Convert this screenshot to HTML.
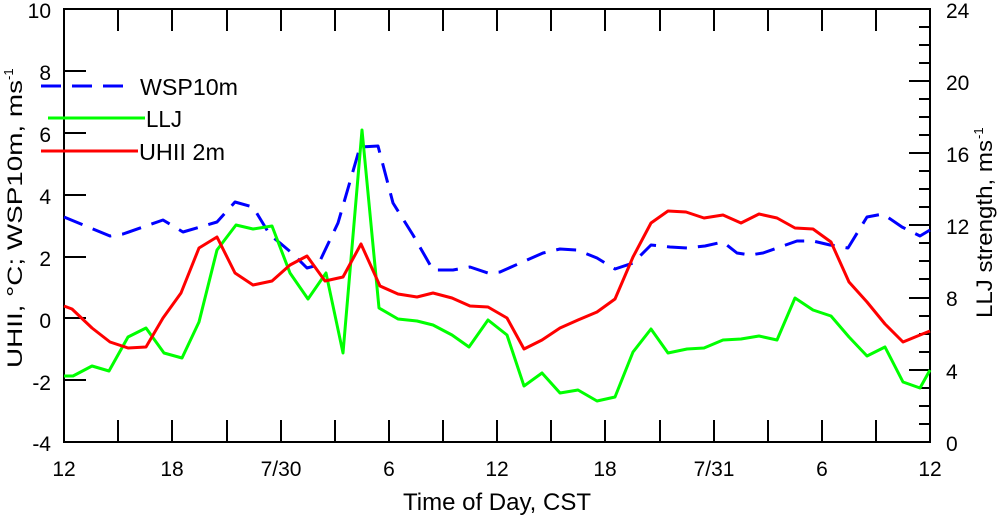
<!DOCTYPE html>
<html><head><meta charset="utf-8"><style>body{margin:0;background:#fff}svg{display:block}text{font-family:"Liberation Sans",sans-serif;fill:#000}</style></head><body>
<svg width="1000" height="516" viewBox="0 0 1000 516">
<g font-size="21">
<text x="51" y="18" text-anchor="end">10</text>
<text x="51" y="80" text-anchor="end">8</text>
<text x="51" y="142" text-anchor="end">6</text>
<text x="51" y="204" text-anchor="end">4</text>
<text x="51" y="266" text-anchor="end">2</text>
<text x="51" y="328" text-anchor="end">0</text>
<text x="51" y="390" text-anchor="end">-2</text>
<text x="51" y="451" text-anchor="end">-4</text>
<text x="946" y="18">24</text>
<text x="946" y="90">20</text>
<text x="946" y="162">16</text>
<text x="946" y="234">12</text>
<text x="946" y="306">8</text>
<text x="946" y="379">4</text>
<text x="946" y="451">0</text>
<text x="64" y="476" text-anchor="middle">12</text>
<text x="172" y="476" text-anchor="middle">18</text>
<text x="281" y="476" text-anchor="middle">7/30</text>
<text x="389" y="476" text-anchor="middle">6</text>
<text x="497" y="476" text-anchor="middle">12</text>
<text x="605" y="476" text-anchor="middle">18</text>
<text x="714" y="476" text-anchor="middle">7/31</text>
<text x="822" y="476" text-anchor="middle">6</text>
<text x="930" y="476" text-anchor="middle">12</text>
<text x="497" y="510" text-anchor="middle" font-size="24">Time of Day, CST</text>
<text transform="translate(22,368) rotate(-90)" textLength="288" lengthAdjust="spacingAndGlyphs">UHII, °C; WSP10m, ms</text>
<text transform="translate(22,80) rotate(-90)" font-size="13" dy="-9">-1</text>
<text transform="translate(992,318) rotate(-90)" font-size="22" textLength="178" lengthAdjust="spacingAndGlyphs">LLJ strength, ms</text>
<text transform="translate(992,139) rotate(-90)" font-size="13" dy="-9">-1</text>
</g>
<g font-size="23">
<text x="140" y="95" textLength="98" lengthAdjust="spacingAndGlyphs">WSP10m</text>
<text x="146" y="127" textLength="36" lengthAdjust="spacingAndGlyphs">LLJ</text>
<text x="139" y="160" textLength="86" lengthAdjust="spacingAndGlyphs">UHII 2m</text>
</g>
<g stroke="#000" stroke-width="2" fill="none">
<rect x="64" y="9" width="866" height="433"/>
<path d="M64 71h22M64 133h22M64 195h22M64 257h22M64 318h22M64 380h22"/>
<path d="M118 9v22M172 9v22M227 9v22M281 9v22M335 9v22M389 9v22M443 9v22M497 9v22M551 9v22M605 9v22M660 9v22M714 9v22M768 9v22M822 9v22M876 9v22"/>
<path d="M118 442v-22M172 442v-22M227 442v-22M281 442v-22M335 442v-22M389 442v-22M443 442v-22M497 442v-22M551 442v-22M605 442v-22M660 442v-22M714 442v-22M768 442v-22M822 442v-22M876 442v-22"/>
<path d="M930 81h-21M930 153h-21M930 225h-21M930 298h-21M930 370h-21"/>
<path d="M930 27h-11M930 45h-11M930 63h-11M930 99h-11M930 117h-11M930 135h-11M930 171h-11M930 189h-11M930 207h-11M930 243h-11M930 261h-11M930 279h-11M930 316h-11M930 334h-11M930 352h-11M930 388h-11M930 406h-11M930 424h-11"/>
</g>
<g fill="none" stroke-width="3" stroke-linejoin="round">
<polyline stroke="#0000ff" stroke-dasharray="20,11" points="64,217 110,236 123,234 163,220 183,232 217,222 235,202 253,207 270,235 280,243 293,254 307,268 318,265 338,223 360,147 378,146 393,203 413,235 433,270 453,270 470,267 488,273 500,272 527,260 543,253 560,249 577,250 597,258 615,269 633,263 651,245 670,247 687,248 705,246 723,242 737,253 750,255 763,253 780,247 797,241 813,241 830,245 848,248 867,217 883,214 902,227 920,236 930,230"/>
<polyline stroke="#00ff00" points="64,376 73,376 92,366 109,371 128,337 146,328 164,353 182,358 199,322 217,250 236,225 253,229 272,226 290,273 308,299 326,273 343,353 362,130 379,308 398,319 417,321 433,325 452,335 469,347 488,320 507,335 524,386 542,373 560,393 578,390 597,401 615,397 633,352 651,329 668,353 687,349 704,348 723,340 741,339 759,336 777,340 795,298 813,310 831,316 849,337 867,356 885,347 903,382 920,388 930,370"/>
<polyline stroke="#ff0000" points="64,306 72,309 92,328 110,342 128,348 146,347 163,318 181,293 199,248 217,237 235,273 253,285 272,281 290,265 307,256 325,281 343,277 361,244 380,286 398,294 417,297 433,293 452,298 470,306 488,307 507,318 524,349 542,340 560,328 578,320 597,312 615,299 633,257 651,223 668,211 686,212 704,218 723,215 741,223 759,214 777,218 795,228 813,229 831,242 849,282 867,302 885,324 903,342 920,335 930,331"/>
<line x1="41" y1="86" x2="124" y2="86" stroke="#0000ff" stroke-dasharray="20,11"/>
<line x1="48" y1="118" x2="145" y2="118" stroke="#00ff00"/>
<line x1="41" y1="151" x2="138" y2="151" stroke="#ff0000"/>
</g>
</svg>
</body></html>
